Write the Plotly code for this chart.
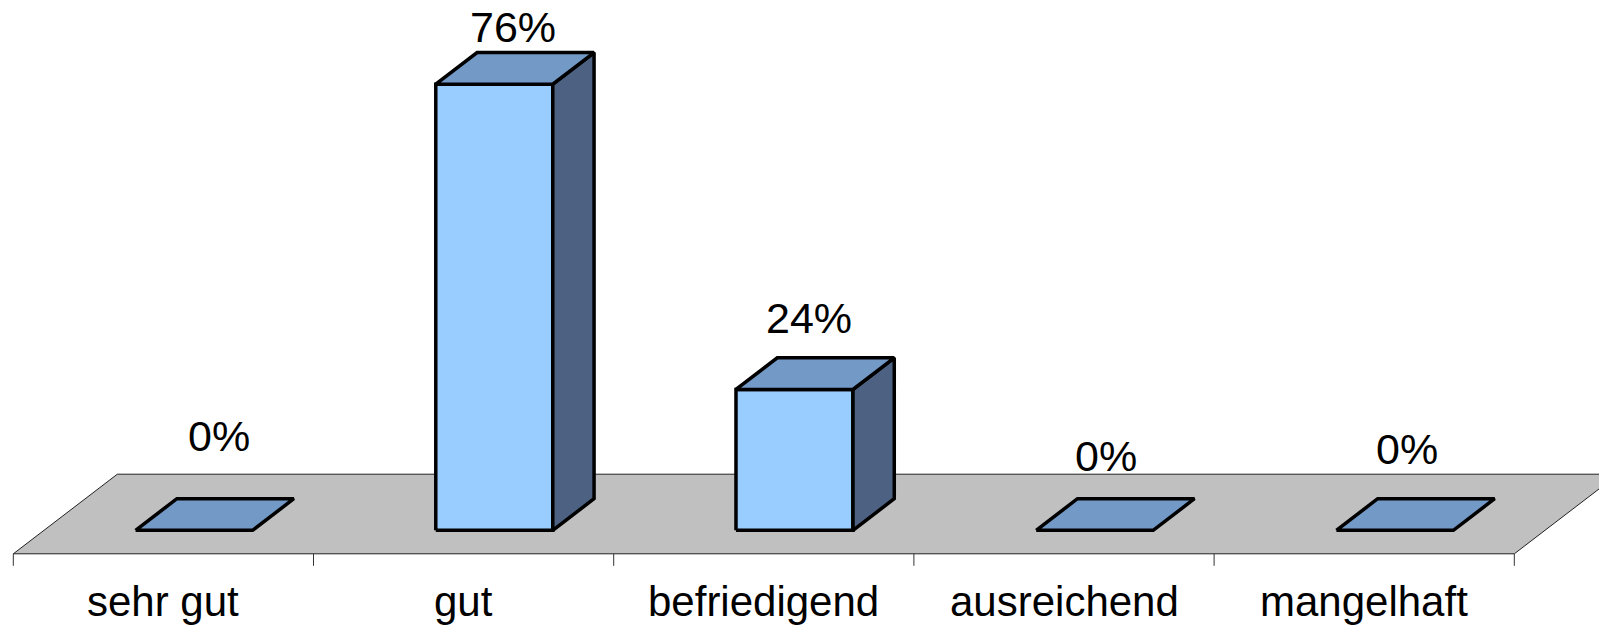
import plotly.graph_objects as go

# ---- data ----
categories = ["sehr gut", "gut", "befriedigend", "ausreichend", "mangelhaft"]
values = [0, 76, 24, 0, 0]
value_labels = ["0%", "76%", "24%", "0%", "0%"]

# ---- layout / projection constants (pixels -> data units) ----
W, H = 1599, 626
PX_PER_CAT = 300.2          # pixels per category slot
PX_PER_PCT = 5.87           # pixels per percent
X0_PX = 13.3                # pixel x of left floor edge (category -0.5)
FLOOR_PX = 553.8            # pixel y of floor front edge
DEPTH_DX = 104 / PX_PER_CAT # oblique shift for full depth (category units)
DEPTH_DY = 79.6 / PX_PER_PCT
D_FRONT, D_BACK = 0.295, 0.692
HALF_W = 58.5 / PX_PER_CAT

x_lo = -0.5 - X0_PX / PX_PER_CAT
x_hi = x_lo + W / PX_PER_CAT
y_hi = FLOOR_PX / PX_PER_PCT
y_lo = y_hi - H / PX_PER_PCT

FRONT_C = "#99CCFF"
TOP_C = "#7399C6"
SIDE_C = "#4D6282"
FLOOR_C = "#C0C0C0"
FONT = "Liberation Sans, Arial, sans-serif"


def proj(c, v, d):
    return c + d * DEPTH_DX, v + d * DEPTH_DY


def poly(pts, fill, lw, lc="black"):
    xs, ys = zip(*[proj(*p) for p in pts])
    return go.Scatter(x=list(xs) + [xs[0]], y=list(ys) + [ys[0]], mode="lines",
                      fill="toself", fillcolor=fill,
                      line=dict(color=lc, width=lw), hoverinfo="skip",
                      showlegend=False)


fig = go.Figure()

n = len(categories)
# floor
fig.add_trace(poly([(-0.5, 0, 0), (n - 0.5, 0, 0), (n - 0.5, 0, 1), (-0.5, 0, 1)],
                   FLOOR_C, 1, "#222222"))

# ticks
for k in range(n + 1):
    c = k - 0.5
    fig.add_trace(go.Scatter(x=[c, c], y=[0, -12 / PX_PER_PCT], mode="lines",
                             line=dict(color="#333333", width=1),
                             hoverinfo="skip", showlegend=False))

# bars
for i, v in enumerate(values):
    l, r = i - HALF_W, i + HALF_W
    if v > 0:
        fig.add_trace(poly([(l, 0, D_FRONT), (r, 0, D_FRONT), (r, v, D_FRONT), (l, v, D_FRONT)],
                           FRONT_C, 3.5))
        fig.add_trace(poly([(r, 0, D_FRONT), (r, 0, D_BACK), (r, v, D_BACK), (r, v, D_FRONT)],
                           SIDE_C, 3.5))
    fig.add_trace(poly([(l, v, D_FRONT), (r, v, D_FRONT), (r, v, D_BACK), (l, v, D_BACK)],
                       TOP_C, 3.5))

# value labels (pixel nudges relative to category centre / bar value)
label_dx_px = [56, 49, 45, 42, 43]
label_dy_px = [118, 81, 95, 98, 105]
annotations = []
for i, (v, t) in enumerate(zip(values, value_labels)):
    annotations.append(dict(x=i + label_dx_px[i] / PX_PER_CAT,
                            y=v + label_dy_px[i] / PX_PER_PCT,
                            text=t, showarrow=False, xanchor="center", yanchor="middle",
                            font=dict(family=FONT, size=43, color="black")))
# category labels
for i, c in enumerate(categories):
    annotations.append(dict(x=i, y=-48 / PX_PER_PCT, text=c, showarrow=False,
                            xanchor="center", yanchor="middle",
                            font=dict(family=FONT, size=42, color="black")))

fig.update_layout(
    width=W, height=H,
    margin=dict(l=0, r=0, t=0, b=0),
    paper_bgcolor="white", plot_bgcolor="white",
    xaxis=dict(range=[x_lo, x_hi], visible=False, fixedrange=True),
    yaxis=dict(range=[y_lo, y_hi], visible=False, fixedrange=True),
    annotations=annotations,
    showlegend=False,
)

fig.write_html("out.html", config={"displayModeBar": False},
               post_script="document.body.style.margin='0';document.body.style.overflow='hidden';")
